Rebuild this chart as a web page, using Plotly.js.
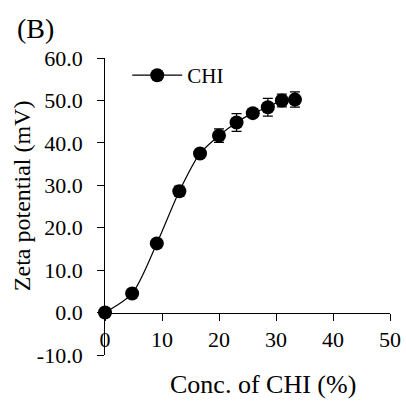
<!DOCTYPE html>
<html>
<head>
<meta charset="utf-8">
<script src="https://cdn.plot.ly/plotly-3.0.1.min.js"></script>
<style>html,body{margin:0;padding:0;background:#fff;}#chart{width:406px;height:402px;}</style>
</head>
<body>
<div id="chart"></div>
<script>
// Data
const seriesName = "CHI";
const concentration = [0, 4.76, 9.09, 13.04, 16.67, 20.0, 23.08, 25.93, 28.57, 31.03, 33.33];
const zetaPotential = [0.0, 4.5, 16.3, 28.6, 37.5, 41.7, 44.8, 47.0, 48.4, 50.0, 50.2];
const zetaError = [0.0, 0.5, 0.8, 1.2, 0.8, 1.6, 2.1, 1.0, 2.1, 1.5, 1.8];
const xTicks = [0, 10, 20, 30, 40, 50];
const yTicks = [-10, 0, 10, 20, 30, 40, 50, 60];
const xTitle = "Conc. of CHI (%)";
const yTitle = "Zeta potential (mV)";
const panelLabel = "(B)";

const FONT = "Liberation Serif";

const trace = {
  x: concentration,
  y: zetaPotential,
  name: seriesName,
  type: "scatter",
  mode: "lines+markers",
  line: {color: "#000", width: 1.2, shape: "spline", smoothing: 0.8},
  marker: {color: "#000", size: 14, symbol: "circle"},
  error_y: {type: "data", array: zetaError, visible: true, color: "#000", thickness: 1.2, width: 5},
  cliponaxis: false
};

const layout = {
  width: 406,
  height: 402,
  margin: {l: 104.5, r: 16, t: 57.6, b: 47.3},
  paper_bgcolor: "#fff",
  plot_bgcolor: "#fff",
  font: {family: FONT, color: "#000", size: 22},
  showlegend: true,
  legend: {
    x: 0.078, y: 1.01, xanchor: "left", yanchor: "top",
    bgcolor: "rgba(0,0,0,0)", borderwidth: 0,
    font: {family: FONT, size: 21, color: "#000"},
    itemwidth: 50
  },
  xaxis: {
    range: [0, 50],
    tickvals: xTicks,
    ticktext: xTicks.map(v => String(v)),
    ticks: "outside",
    ticklen: 7,
    tickcolor: "#000",
    tickwidth: 1,
    showline: true,
    linecolor: "#000",
    linewidth: 1,
    showgrid: false,
    zeroline: false,
    anchor: "free",
    position: 1 / 7,
    tickfont: {family: FONT, size: 22, color: "#000"}
  },
  yaxis: {
    range: [-10, 60],
    tickvals: yTicks,
    ticktext: yTicks.map(v => v.toFixed(1) + "\u00a0\u2009"),
    ticks: "outside",
    ticklen: 7,
    tickcolor: "#000",
    tickwidth: 1,
    showline: true,
    linecolor: "#000",
    linewidth: 1,
    showgrid: false,
    zeroline: false,
    tickfont: {family: FONT, size: 22, color: "#000"}
  },
  annotations: [
    {
      text: panelLabel,
      xref: "paper", yref: "paper",
      x: -0.315, y: 1.10,
      xanchor: "left", yanchor: "middle",
      showarrow: false,
      font: {family: FONT, size: 28, color: "#000"}
    },
    {
      text: yTitle,
      xref: "paper", yref: "paper",
      x: -0.2925, y: 0.537,
      xanchor: "center", yanchor: "middle",
      textangle: -90,
      showarrow: false,
      font: {family: FONT, size: 24, color: "#000"}
    },
    {
      text: xTitle,
      xref: "paper", yref: "paper",
      x: 0.555, y: -0.099,
      xanchor: "center", yanchor: "middle",
      showarrow: false,
      font: {family: FONT, size: 26, color: "#000"}
    }
  ]
};

Plotly.newPlot("chart", [trace], layout, {staticPlot: true, displayModeBar: false});
</script>
</body>
</html>
